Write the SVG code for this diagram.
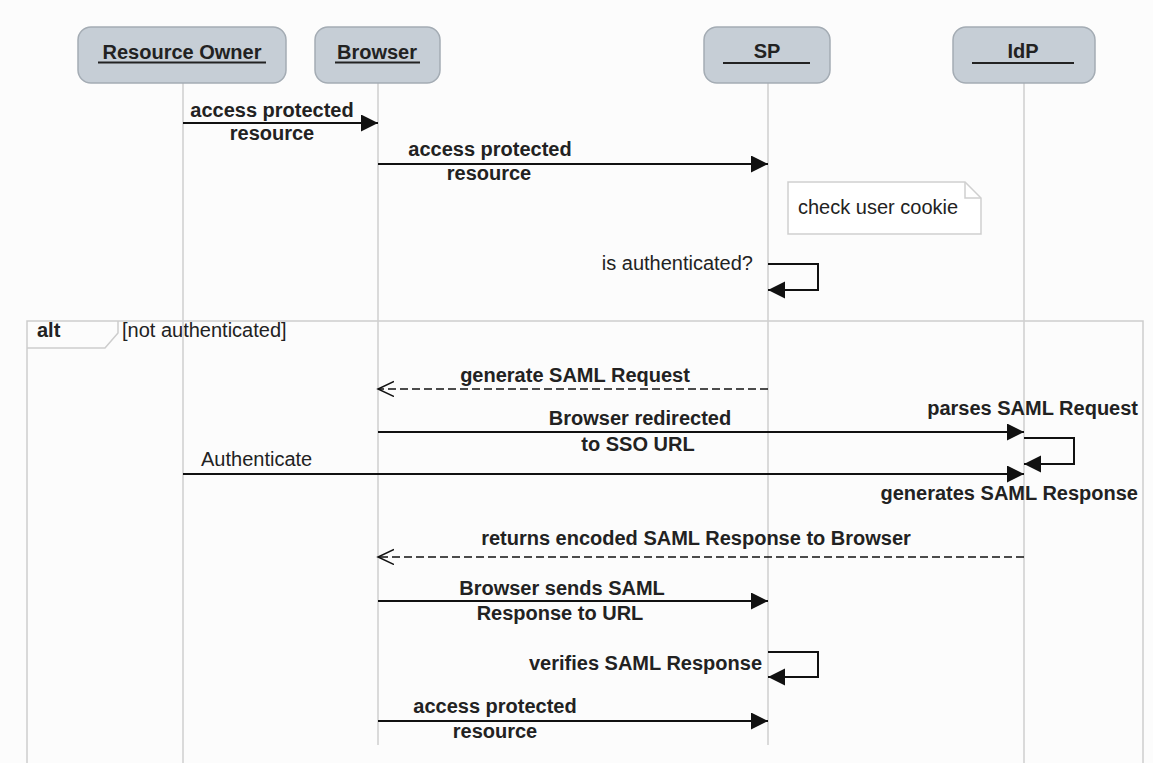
<svg xmlns="http://www.w3.org/2000/svg" width="1153" height="763" viewBox="0 0 1153 763">
  <style>
    .head { fill: #c6ced6; stroke: #a4acb4; stroke-width: 1.5; }
    .life { stroke: #cfcfcf; stroke-width: 1.5; fill: none; }
    .frame { stroke: #cdcdcd; stroke-width: 1.5; fill: none; }
    .msg { stroke: #111; stroke-width: 2; fill: none; }
    .ret { stroke: #111; stroke-width: 1.5; fill: none; stroke-dasharray: 8 4; }
    .uline { stroke: #222; stroke-width: 2; }
    text { font-family: "Liberation Sans", Arial, sans-serif; font-size: 20px; fill: #222; }
    .b { font-weight: bold; }
    .mid { text-anchor: middle; }
    .end { text-anchor: end; }
  </style>
  <defs>
    <marker id="filled" markerUnits="userSpaceOnUse" markerWidth="18" markerHeight="18" refX="17" refY="8.5" orient="auto">
      <path d="M0,0 L17,8.5 L0,17 Z" fill="#111"/>
    </marker>
    <marker id="open" markerUnits="userSpaceOnUse" markerWidth="18" markerHeight="18" refX="16" refY="8" orient="auto">
      <path d="M0,0.5 L16,8 L0,15.5" fill="none" stroke="#111" stroke-width="1.5"/>
    </marker>
  </defs>

  <rect width="1153" height="763" fill="#fcfcfc"/>

  <!-- alt frame -->
  <g id="alt-frame">
    <path class="frame" d="M27,770 V321 H1143 V770"/>
    <path class="frame" d="M27,348 H105 L118,333 V321"/>
    <text class="b" x="37" y="337">alt</text>
    <text x="122" y="337">[not authenticated]</text>
  </g>

  <!-- lifelines -->
  <g id="lifelines">
    <line class="life" x1="183" y1="83" x2="183" y2="763"/>
    <line class="life" x1="378" y1="83" x2="378" y2="745"/>
    <line class="life" x1="768" y1="83" x2="768" y2="745"/>
    <line class="life" x1="1024" y1="83" x2="1024" y2="763"/>
  </g>

  <!-- participants -->
  <g id="resource-owner">
    <rect class="head" x="78" y="27" width="208" height="56" rx="13"/>
    <text class="b mid" x="182" y="59">Resource Owner</text>
    <line class="uline" x1="98" y1="62.5" x2="266" y2="62.5"/>
  </g>
  <g id="browser">
    <rect class="head" x="315" y="27" width="125" height="56" rx="13"/>
    <text class="b mid" x="377" y="59">Browser</text>
    <line class="uline" x1="335" y1="62.5" x2="420" y2="62.5"/>
  </g>
  <g id="sp">
    <rect class="head" x="704" y="27" width="126" height="56" rx="13"/>
    <text class="b mid" x="767" y="58">SP</text>
    <line class="uline" x1="723" y1="63" x2="810" y2="63"/>
  </g>
  <g id="idp">
    <rect class="head" x="953" y="27" width="142" height="56" rx="13"/>
    <text class="b mid" x="1023" y="58">IdP</text>
    <line class="uline" x1="972" y1="63" x2="1074" y2="63"/>
  </g>

  <!-- note -->
  <g id="note-cookie">
    <path d="M788,182 H965 L981,198 V234 H788 Z" fill="#fff" stroke="#cfcfcf" stroke-width="1.5"/>
    <path d="M965,182 V198 H981" fill="none" stroke="#cfcfcf" stroke-width="1.5"/>
    <text x="798" y="214">check user cookie</text>
  </g>

  <!-- messages -->
  <g id="connectors">
    <line class="msg" x1="183" y1="123" x2="378" y2="123" marker-end="url(#filled)"/>
    <line class="msg" x1="378" y1="164" x2="768" y2="164" marker-end="url(#filled)"/>
    <path class="msg" d="M768,264 H818 V290 H768" marker-end="url(#filled)"/>
    <line class="ret" x1="768" y1="389" x2="378" y2="389" marker-end="url(#open)"/>
    <line class="msg" x1="378" y1="432" x2="1024" y2="432" marker-end="url(#filled)"/>
    <path class="msg" d="M1024,438 H1074 V464 H1024" marker-end="url(#filled)"/>
    <line class="msg" x1="183" y1="474" x2="1024" y2="474" marker-end="url(#filled)"/>
    <line class="ret" x1="1024" y1="557" x2="378" y2="557" marker-end="url(#open)"/>
    <line class="msg" x1="378" y1="601" x2="768" y2="601" marker-end="url(#filled)"/>
    <path class="msg" d="M768,652 H818 V677 H768" marker-end="url(#filled)"/>
    <line class="msg" x1="378" y1="721" x2="768" y2="721" marker-end="url(#filled)"/>
  </g>

  <!-- message labels -->
  <g id="labels">
    <text class="b mid" x="272" y="117">access protected</text>
    <text class="b mid" x="272" y="140">resource</text>
    <text class="b mid" x="490" y="156">access protected</text>
    <text class="b mid" x="489" y="180">resource</text>
    <text class="end" x="753" y="270">is authenticated?</text>
    <text class="b mid" x="575" y="382">generate SAML Request</text>
    <text class="b mid" x="640" y="425">Browser redirected</text>
    <text class="b mid" x="638" y="451">to SSO URL</text>
    <text class="b end" x="1138" y="415">parses SAML Request</text>
    <text x="201" y="466">Authenticate</text>
    <text class="b end" x="1138" y="500">generates SAML Response</text>
    <text class="b mid" x="696" y="545">returns encoded SAML Response to Browser</text>
    <text class="b mid" x="562" y="595">Browser sends SAML</text>
    <text class="b mid" x="560" y="620">Response to URL</text>
    <text class="b end" x="762" y="670">verifies SAML Response</text>
    <text class="b mid" x="495" y="713">access protected</text>
    <text class="b mid" x="495" y="738">resource</text>
  </g>
</svg>
